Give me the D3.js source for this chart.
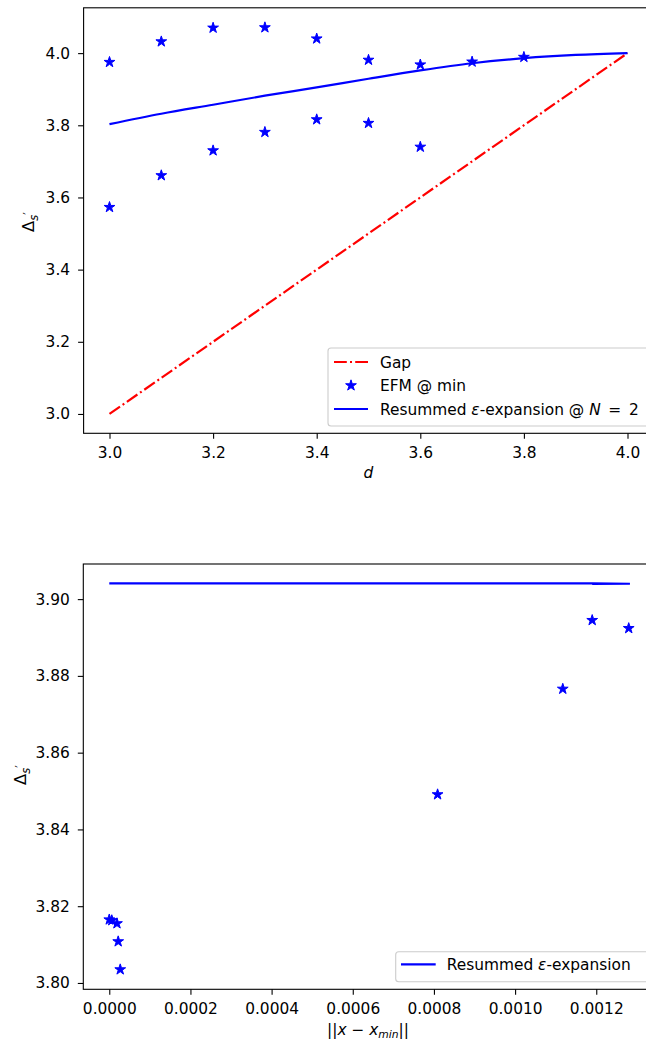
<!DOCTYPE html>
<html><head><meta charset="utf-8">
<script src="https://cdn.jsdelivr.net/npm/d3@7"></script>
<style>
body{margin:0;background:#fff;}
svg{display:block;font-family:"DejaVu Sans",sans-serif;}
</style></head>
<body><svg id="c" width="646" height="1042"></svg>
<script>
// ---------- data: top panel ----------
const gapD = [3.0, 4.0];
const gapV = [3.0, 4.0];
const efmD = [3.0, 3.1, 3.2, 3.3, 3.4, 3.5, 3.6, 3.7, 3.8, 3.0, 3.1, 3.2, 3.3, 3.4, 3.5, 3.6];
const efmV = [3.975, 4.032, 4.070, 4.071, 4.040, 3.981, 3.968, 3.976, 3.989,
              3.573, 3.661, 3.730, 3.781, 3.816, 3.806, 3.740];
const resD = [3.0, 3.1, 3.2, 3.3, 3.4, 3.5, 3.6, 3.7, 3.8, 3.9, 4.0];
const resV = [3.803, 3.832, 3.857, 3.882, 3.905, 3.929, 3.952, 3.972, 3.986, 3.995, 4.000];
const topXTicks = [3.0, 3.2, 3.4, 3.6, 3.8, 4.0];
const topYTicks = [3.0, 3.2, 3.4, 3.6, 3.8, 4.0];
// ---------- data: bottom panel ----------
const distX = [0, 6.2e-6, 1.9e-5, 2.2e-5, 2.7e-5, 8.09e-4, 1.1175e-3, 1.190e-3, 1.280e-3];
const distV = [3.8165, 3.8163, 3.8155, 3.8108, 3.8035, 3.8491, 3.8766, 3.8945, 3.8924];
const lineX = [0, 6.2e-6, 1.9e-5, 2.2e-5, 2.7e-5, 8.09e-4, 1.1175e-3, 1.190e-3, 1.283e-3, 1.190e-3];
const lineV = [3.9041, 3.9041, 3.9041, 3.9041, 3.9041, 3.9041, 3.9041, 3.9041, 3.9040, 3.90395];
const botXTicks = [0, 0.0002, 0.0004, 0.0006, 0.0008, 0.0010, 0.0012];
const botYTicks = [3.80, 3.82, 3.84, 3.86, 3.88, 3.90];

const svg = d3.select("#c");
const FS = 15.4;
const BLUE = "#0000ff", RED = "#ff0000";
const star = d3.symbol().type(d3.symbolStar).size(36);

function frame(x, y, xt, yt, xf, yf){
  const g = svg.append("g");
  const [x0, x1] = x.range(), [y0, y1] = y.range();
  const ax = g.append("g").attr("transform", `translate(0,${y0})`)
    .call(d3.axisBottom(x).tickValues(xt).tickFormat(d3.format(xf)).tickSizeOuter(0).tickSize(5.5).tickPadding(8));
  const ay = g.append("g").attr("transform", `translate(${x0},0)`)
    .call(d3.axisLeft(y).tickValues(yt).tickFormat(d3.format(yf)).tickSizeOuter(0).tickSize(5.5).tickPadding(8));
  [ax, ay].forEach(a => {
    a.selectAll(".domain").remove();
    a.selectAll("line").attr("stroke", "#000").attr("stroke-width", 1.1);
    a.selectAll("text").attr("font-size", FS).attr("fill", "#000").attr("font-family", "DejaVu Sans");
  });
  g.append("rect").attr("x", x0).attr("y", y1).attr("width", x1 - x0).attr("height", y0 - y1)
    .attr("fill", "none").attr("stroke", "#000").attr("stroke-width", 1.1);
  return g;
}
function ylabel(x, y){
  const t = svg.append("text").attr("transform", `translate(${x},${y}) rotate(-90)`)
    .attr("text-anchor", "middle").attr("font-size", FS + 1).attr("fill", "#000");
  t.append("tspan").text("Δ");
  t.append("tspan").attr("font-size", FS * 0.75).attr("font-style", "italic").attr("dy", 4).text("s");
  t.append("tspan").attr("font-size", FS * 0.75).attr("dy", -6).text("′");
}

// ================= TOP PANEL =================
const x1 = d3.scaleLinear().domain([2.95, 4.05]).range([83.6, 653.4]);
const y1 = d3.scaleLinear().domain([2.9464, 4.1256]).range([433.3, 7.8]);
frame(x1, y1, topXTicks, topYTicks, ".1f", ".1f");
const p1 = svg.append("g");
const line1 = d3.line().x(d => x1(d[0])).y(d => y1(d[1]));
p1.append("path").datum(gapD.map((d, i) => [d, gapV[i]])).attr("d", line1)
  .attr("fill", "none").attr("stroke", RED).attr("stroke-width", 2.2)
  .attr("stroke-dasharray", "12.8,3.2,2,3.2");
p1.selectAll(".st").data(efmD.map((d, i) => [d, efmV[i]])).enter().append("path")
  .attr("d", star).attr("transform", d => `translate(${x1(d[0])},${y1(d[1])})`)
  .attr("fill", BLUE).attr("stroke", BLUE).attr("stroke-width", 1);
p1.append("path").datum(resD.map((d, i) => [d, resV[i]])).attr("d", line1.curve(d3.curveMonotoneX))
  .attr("fill", "none").attr("stroke", BLUE).attr("stroke-width", 2.2);

svg.append("text").attr("x", x1(3.5)).attr("y", 478).attr("text-anchor", "middle")
  .attr("font-size", FS).attr("font-style", "italic").text("d");
ylabel(34, 222);

// legend top
const L1 = svg.append("g");
L1.append("rect").attr("x", 328).attr("y", 348).attr("width", 330).attr("height", 78).attr("rx", 3)
  .attr("fill", "#fff").attr("fill-opacity", 0.8).attr("stroke", "#cccccc").attr("stroke-width", 1.1);
const lgY = [362, 385.5, 409];
L1.append("line").attr("x1", 334).attr("x2", 368).attr("y1", lgY[0]).attr("y2", lgY[0])
  .attr("stroke", RED).attr("stroke-width", 2.2).attr("stroke-dasharray", "12.8,3.2,2,3.2");
L1.append("path").attr("d", star).attr("transform", `translate(351,${lgY[1]})`)
  .attr("fill", BLUE).attr("stroke", BLUE).attr("stroke-width", 1);
L1.append("line").attr("x1", 334).attr("x2", 368).attr("y1", lgY[2]).attr("y2", lgY[2])
  .attr("stroke", BLUE).attr("stroke-width", 2.2);
L1.append("text").attr("x", 380).attr("y", lgY[0] + 5.5).attr("font-size", FS).text("Gap");
L1.append("text").attr("x", 380).attr("y", lgY[1] + 5.5).attr("font-size", FS).text("EFM @ min");
const t3 = L1.append("text").attr("x", 380).attr("y", lgY[2] + 5.5).attr("font-size", FS);
t3.append("tspan").text("Resummed ");
t3.append("tspan").attr("font-style", "italic").text("ε");
t3.append("tspan").text("-expansion @ ");
t3.append("tspan").attr("font-style", "italic").text("N");
t3.append("tspan").text("\u2002=\u20022");

// ================= BOTTOM PANEL =================
const x2 = d3.scaleLinear().domain([-6.4e-5, 1.344e-3]).range([83.3, 654.7]);
const y2 = d3.scaleLinear().domain([3.79835, 3.90915]).range([989.3, 564]);
frame(x2, y2, botXTicks, botYTicks, ".4f", ".2f");
const p2 = svg.append("g");
p2.selectAll(".st").data(distX.map((d, i) => [d, distV[i]])).enter().append("path")
  .attr("d", star).attr("transform", d => `translate(${x2(d[0])},${y2(d[1])})`)
  .attr("fill", BLUE).attr("stroke", BLUE).attr("stroke-width", 1);
p2.append("path").datum(lineX.map((d, i) => [d, lineV[i]]))
  .attr("d", d3.line().x(d => x2(d[0])).y(d => y2(d[1])))
  .attr("fill", "none").attr("stroke", BLUE).attr("stroke-width", 2.2);

const xl = svg.append("text").attr("x", 368).attr("y", 1035).attr("text-anchor", "middle").attr("font-size", FS);
xl.append("tspan").text("||");
xl.append("tspan").attr("font-style", "italic").text("x");
xl.append("tspan").text(" − ");
xl.append("tspan").attr("font-style", "italic").text("x");
xl.append("tspan").attr("font-style", "italic").attr("font-size", FS * 0.7).attr("dy", 3).text("min");
xl.append("tspan").attr("dy", -3).text("||");
ylabel(26, 775);

// legend bottom
const L2 = svg.append("g");
L2.append("rect").attr("x", 395.7).attr("y", 951.7).attr("width", 262).attr("height", 30).attr("rx", 3)
  .attr("fill", "#fff").attr("fill-opacity", 0.8).attr("stroke", "#cccccc").attr("stroke-width", 1.1);
L2.append("line").attr("x1", 401).attr("x2", 435.7).attr("y1", 964.3).attr("y2", 964.3)
  .attr("stroke", BLUE).attr("stroke-width", 2.2);
const t4 = L2.append("text").attr("x", 446.7).attr("y", 969.8).attr("font-size", FS);
t4.append("tspan").text("Resummed ");
t4.append("tspan").attr("font-style", "italic").text("ε");
t4.append("tspan").text("-expansion");
</script></body></html>
